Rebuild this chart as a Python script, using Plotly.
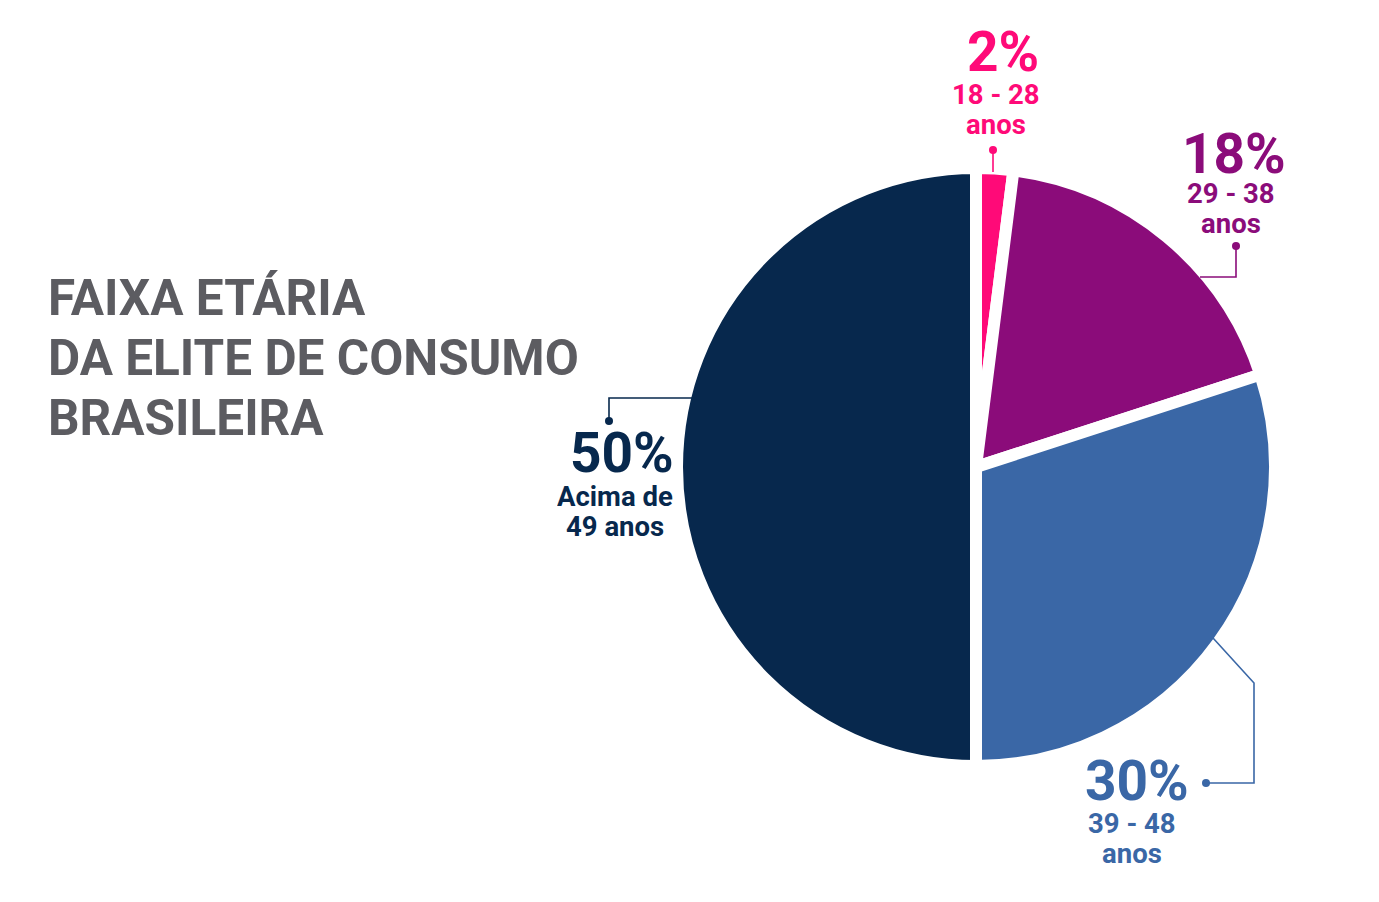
import plotly.graph_objects as go

W, H = 1379, 902
OFF = 8  # page body margin
FW, FH = W - 2 * OFF, H - 2 * OFF

# ---- data ----
groups = ["18 - 28 anos", "29 - 38 anos", "39 - 48 anos", "Acima de 49 anos"]
shares = [2, 18, 30, 50]
pct_labels = ["2%", "18%", "30%", "50%"]
sub_line1 = ["18 - 28", "29 - 38", "39 - 48", "Acima de"]
sub_line2 = ["anos", "anos", "anos", "49 anos"]
title_lines = ["FAIXA ETÁRIA", "DA ELITE DE CONSUMO", "BRASILEIRA"]

# ---- style ----
colors = ["#FF0A78", "#8B0C7A", "#3A67A6", "#07284D"]
title_color = "#5C5C61"
FONT = "Roboto"

def px(x):
    return (x - OFF) / FW

def py(y):
    return 1 - (y - OFF) / FH

# pie geometry (page pixels)
cx, cy, R = 976, 467, 299

fig = go.Figure(go.Pie(
    labels=groups, values=shares, sort=False, direction="clockwise", rotation=0,
    marker=dict(colors=colors, line=dict(color="white", width=12)),
    textinfo="none", hoverinfo="label+percent", showlegend=False,
    domain=dict(x=[px(cx - R), px(cx + R)], y=[py(cy + R), py(cy - R)]),
))

# label positions: (big pct center, line1 center, line2 center)
label_pos = [
    ((1003, 52), (996, 94), (996, 124)),
    ((1234, 154), (1231, 193), (1231, 223)),
    ((1137, 781), (1132, 823), (1132, 853)),
    ((622, 453), (615, 496), (615, 526)),
]
# leader line paths (pixels), ending at a dot
leaders = [
    [(993, 172), (993, 150)],
    [(1200, 277), (1236, 277), (1236, 246)],
    [(1213, 638), (1254, 683), (1254, 783), (1206, 783)],
    [(693, 398), (609, 398), (609, 421)],
]

annotations = []
shapes = []
for i in range(len(shares)):
    (bx, by), (l1x, l1y), (l2x, l2y) = label_pos[i]
    annotations.append(dict(x=px(bx), y=py(by), xref="paper", yref="paper", text=pct_labels[i],
                            showarrow=False, xanchor="center", yanchor="middle", height=44,
                            font=dict(family=FONT, size=55, color=colors[i], weight="bold")))
    annotations.append(dict(x=px(l1x), y=py(l1y), xref="paper", yref="paper", text=sub_line1[i],
                            showarrow=False, xanchor="center", yanchor="middle", height=26,
                            font=dict(family=FONT, size=27.5, color=colors[i], weight="bold")))
    annotations.append(dict(x=px(l2x), y=py(l2y), xref="paper", yref="paper", text=sub_line2[i],
                            showarrow=False, xanchor="center", yanchor="middle", height=26,
                            font=dict(family=FONT, size=27.5, color=colors[i], weight="bold")))
    pts = leaders[i]
    path = "M " + " L ".join(f"{px(x)},{py(y)}" for x, y in pts)
    shapes.append(dict(type="path", path=path, xref="paper", yref="paper",
                       line=dict(color=colors[i], width=1.6)))
    dx, dy = pts[-1]
    r = 4
    shapes.append(dict(type="circle", xref="paper", yref="paper",
                       x0=px(dx - r), x1=px(dx + r), y0=py(dy + r), y1=py(dy - r),
                       fillcolor=colors[i], line=dict(width=0)))

title_y = [298, 358, 418]
for t, y in zip(title_lines, title_y):
    annotations.append(dict(x=px(46), y=py(y), xref="paper", yref="paper", text=t,
                            showarrow=False, xanchor="left", yanchor="middle",
                            font=dict(family=FONT, size=49.5, color=title_color, weight="bold")))

fig.update_layout(
    width=FW, height=FH, margin=dict(l=0, r=0, t=0, b=0),
    paper_bgcolor="white", plot_bgcolor="white",
    annotations=annotations, shapes=shapes,
)

fig.write_html("out.html")
